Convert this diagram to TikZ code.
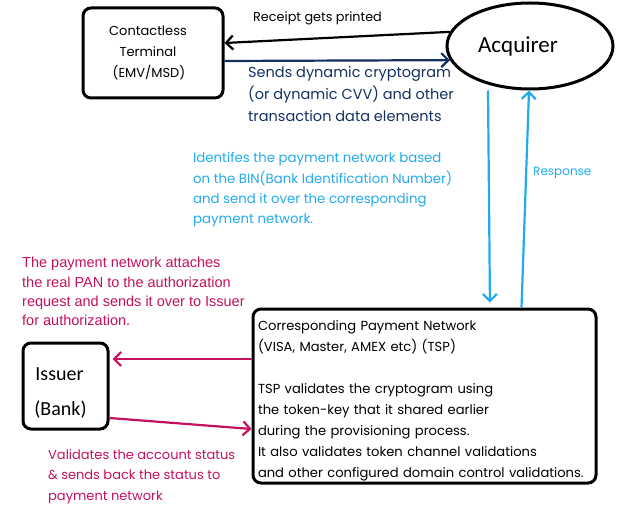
\documentclass[tikz,border=0pt]{standalone}
\usepackage{fontspec}
\setmainfont{Poppins}
\newfontfamily\helvfont{Liberation Sans}
\newfontfamily\handfont{Carlito}
\usetikzlibrary{shapes.geometric,arrows.meta}
\definecolor{navyblue}{HTML}{14305F}
\definecolor{skyblue}{HTML}{22AAEE}
\definecolor{berry}{HTML}{C4105E}

\begin{document}
\begin{tikzpicture}[x=1pt,y=-1pt,
   box/.style={draw,line width=3pt,rounded corners=8pt,inner sep=0pt},
   note/.style={anchor=north west,align=left,inner sep=0pt},
   flow/.style={line width=2.2pt,-{Straight Barb[length=7pt,width=14pt]}}]
   \useasboundingbox (0,0) rectangle (634,529);

   % the four parties
   \node[box,minimum width=140pt,minimum height=90pt,text width=130pt,align=center,
         font=\fontsize{13}{21}\selectfont] (term) at (153,53)
         {Contactless\kern10pt\mbox{}\\Terminal\kern10pt\mbox{}\\(EMV/MSD)\kern8pt\mbox{}};
   \node[draw,ellipse,line width=3pt,minimum width=166pt,minimum height=86pt,
         font=\handfont\fontsize{23}{23}\selectfont] (acq) at (530,46) {Acquirer\hspace*{24pt}};
   \node[box,minimum width=343pt,minimum height=174pt,inner xsep=5pt,
         text width=333pt,text height=21pt,text depth=153pt,align=left,
         font=\fontsize{13.1}{21}\selectfont] (net) at (424.5,396)
         {Corresponding Payment Network\\
          (VISA, Master, AMEX etc) (TSP)\\
          ~\\
          TSP validates the cryptogram using\\
          the token-key that it shared earlier\\
          during the provisioning process.\\
          It also validates token channel validations\\
          and other configured domain control validations.};
   \node[box,minimum width=85pt,minimum height=86pt,text width=75pt,
         text height=37pt,text depth=49pt,align=center,
         font=\handfont\fontsize{20}{35}\selectfont] (iss) at (65.5,386)
         {Issuer\kern12pt\mbox{}\\(Bank)\kern10pt\mbox{}};

   % messages
   \draw[flow] (acq.170) -- ([yshift=10pt]term.east);
   \draw[flow,navyblue] ([yshift=-8pt]term.east) -- (acq.190);
   \draw[flow,skyblue,shorten >=5pt] ([xshift=-42pt]acq.south) -- ([xshift=65.5pt]net.north);
   \draw[flow,skyblue] ([xshift=97pt]net.north) -- ([xshift=-1pt]acq.south);
   \draw[flow,berry,shorten >=3pt] ([yshift=37pt]net.west) -- ([yshift=27pt]iss.east);
   \draw[flow,berry] ([yshift=-32pt]iss.east) -- ([yshift=-33pt]net.west);

   % what each message says
   \node[anchor=west,inner sep=0pt,font=\fontsize{12.8}{12.8}\selectfont] (receipt) at (253,18)
        {Receipt gets printed};
   \node[note,navyblue,font=\fontsize{14.5}{22}\selectfont] (sends) at (248,66)
        {Sends dynamic cryptogram\\(or dynamic CVV) and other\\transaction data elements};
   \node[note,skyblue,font=\fontsize{13.3}{20.3}\selectfont] (binnote) at (193,152.5)
        {Identifes the payment network based\\on the BIN(Bank Identification Number)\\
         and send it over the corresponding\\payment network.};
   \node[anchor=west,inner sep=0pt,skyblue,font=\fontsize{12}{12}\selectfont] (resp) at (533,173)
        {Response};
   \node[note,berry,font=\helvfont\fontsize{14.5}{19.3}\selectfont] (pannote) at (22,257)
        {The payment network attaches\\the real PAN to the authorization\\
         request and sends it over to Issuer\\for authorization.};
   \node[note,berry,font=\fontsize{13}{20.5}\selectfont] (status) at (48,449)
        {Validates the account status\\\& sends back the status to\\payment network};
\end{tikzpicture}
\end{document}
